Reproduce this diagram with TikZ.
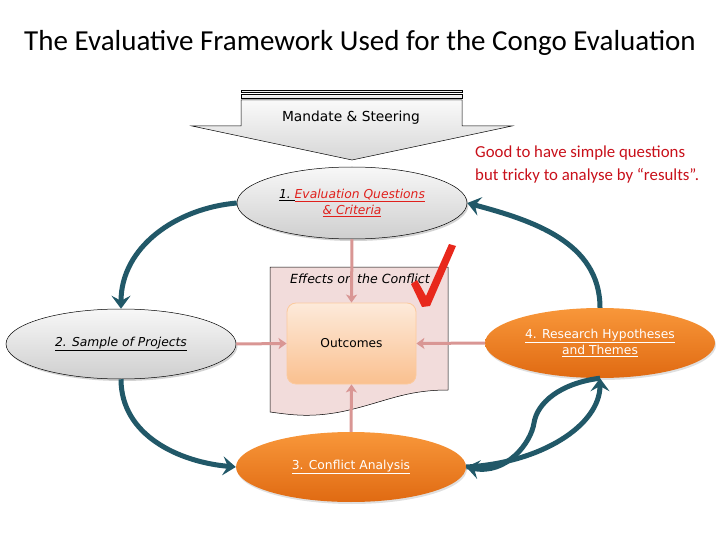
\documentclass[tikz,border=0pt]{standalone}
\usepackage{fontspec}
\setmainfont{DejaVu Sans}
\newfontfamily\carl{Carlito}
\usetikzlibrary{arrows.meta,shapes.geometric,shadows}
\definecolor{teal}{HTML}{215868}
\definecolor{pinkarrow}{HTML}{D99694}
\definecolor{pinkbox}{HTML}{F2DCDB}
\definecolor{evred}{HTML}{E0201C}
\definecolor{notered}{HTML}{C8101A}
\definecolor{orangetop}{HTML}{F8973A}
\definecolor{orangebot}{HTML}{E06A12}
\definecolor{peachtop}{HTML}{FDEADA}
\definecolor{peachbot}{HTML}{FAC08F}
\definecolor{checkred}{HTML}{E8281C}
\begin{document}
\begin{tikzpicture}[x=1pt,y=1pt,
  greyell/.style={ellipse, draw=black, line width=0.5pt, inner sep=0pt,
    minimum width=230, minimum height=72, top color=gray!6, bottom color=gray!38,
    drop shadow={opacity=0.35, shadow xshift=1.5pt, shadow yshift=-2pt}},
  orangeell/.style={ellipse, draw=none, inner sep=0pt,
    minimum width=230, minimum height=70, top color=orangetop, bottom color=orangebot,
    drop shadow={opacity=0.25, shadow xshift=1pt, shadow yshift=-2pt}, text=white},
  labelfont/.style={font=\fontsize{12.3}{16.5}\selectfont, align=center},
  tealarrow/.style={draw=teal, line width=5pt,
    -{Stealth[length=13pt,width=19pt,inset=5pt]}},
  pinkarr/.style={draw=pinkarrow, line width=3pt,
    -{Stealth[length=8pt,width=11pt,inset=2pt]}}]
\useasboundingbox (0,0) rectangle (720,-540);

% title
\node[font=\carl\fontsize{29}{34}\selectfont] (title) at (360,-43)
  {The Evaluative Framework Used for the Congo Evaluation};

% mandate arrow
\draw[line width=0.5pt, top color=gray!5, bottom color=gray!25] (241,-90) rectangle (462,-92.5);
\draw[line width=0.5pt, top color=gray!5, bottom color=gray!25] (241,-94.5) rectangle (462,-98.5);
\draw[line width=0.5pt, top color=gray!4, bottom color=gray!32]
  (241,-100) -- (462,-100) -- (462,-126) -- (512,-126) -- (352,-160)
  -- (192,-126) -- (241,-126) -- cycle;
\node[font=\fontsize{13.8}{16}\selectfont] (mandate) at (351,-118) {Mandate \& Steering};

% effects document box
\draw[line width=0.5pt, fill=pinkbox]
  (270,-267) -- (448,-267) -- (448,-390)
  .. controls (405,-390) and (385,-402) .. (345,-411)
  .. controls (312,-418) and (292,-415) .. (270,-412) -- cycle;
\node[font=\fontsize{12.6}{15}\selectfont\itshape] (effects) at (360,-279) {Effects on the Conflict};

% outcomes
\node[draw=peachbot!80!orange!70, line width=0.8pt, rounded corners=9pt,
  top color=peachtop, bottom color=peachbot, minimum width=129, minimum height=81,
  font=\fontsize{12.2}{15}\selectfont] (out) at (351.5,-343.5) {Outcomes};

% ellipses
\node[greyell, labelfont] (e1) at (352,-203)
  {\itshape\underline{1.\ }\textcolor{evred}{\underline{Evaluation Questions}}\\
   \itshape\textcolor{evred}{\underline{\& Criteria}}};
\node[greyell, minimum height=70, labelfont] (e2) at (121,-344)
  {\itshape\underline{2. Sample of Projects}};
\node[orangeell, labelfont] (e3) at (351,-467) {\underline{3. Conflict Analysis}};
\node[orangeell, labelfont] (e4) at (600,-343)
  {\underline{4. Research Hypotheses}\\\underline{and Themes}};

% note
\node[anchor=north west, align=left, text=notered,
  font=\carl\fontsize{16.8}{22.5}\selectfont, inner sep=0pt] (note) at (475,-146)
  {Good to have simple questions\\but tricky to analyse by “results”.};

% checkmark
\fill[checkred] (411,-284) -- (417,-280) -- (426,-296) -- (449,-244) -- (456,-246)
  -- (430,-306) -- (422,-307) -- cycle;

% pink connectors
\draw[pinkarr] (e1.south) -- (out.north);
\draw[pinkarr] (e2.east) -- (out.west);
\draw[pinkarr] (e4.west) -- (out.east);
\draw[pinkarr] (e3.north) -- (out.south);

% teal connectors
\draw[tealarrow] (e1.west) to[out=185,in=90] (e2.north);
\draw[tealarrow] (e2.south) to[out=-90,in=175] (e3.west);
\draw[tealarrow] (e4.north) to[out=90,in=-15] (e1.east);
\coordinate (lensA) at (534,-423);
\draw[tealarrow] (e3.east) .. controls +(75,4) and +(0,-47) .. (e4.south);
\draw[tealarrow] (e4.south) .. controls +(-40,-5) and +(3,20) .. (lensA)
  .. controls +(-3,-20) and +(40,-8) .. (e3.east);
\end{tikzpicture}
\end{document}
